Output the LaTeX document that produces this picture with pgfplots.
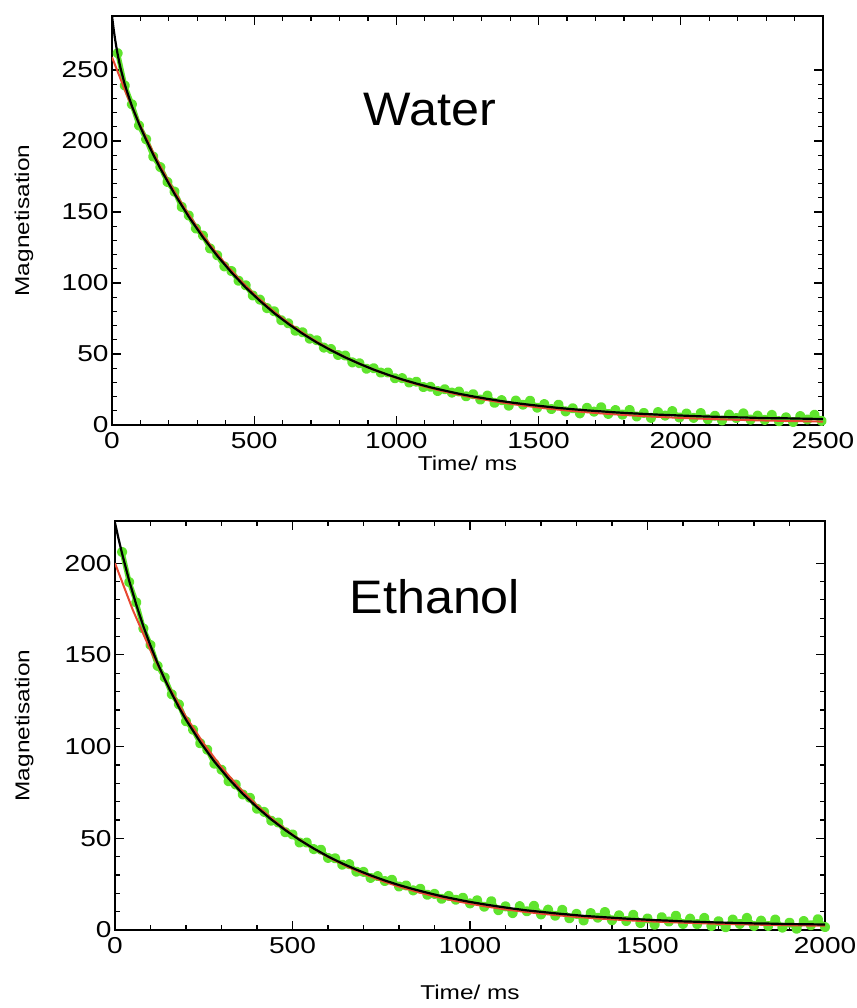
\documentclass[border=0pt]{standalone}
\usepackage{fontspec}
\setmainfont{Liberation Sans}
\newfontfamily\tickfont[FakeStretch=1.22]{Liberation Sans}
\newfontfamily\titlefont[FakeStretch=1.07]{Liberation Sans}
\usepackage{pgfplots}
\pgfplotsset{compat=1.18}
\definecolor{dgreen}{RGB}{95,228,45}
\definecolor{fred}{RGB}{232,72,50}
\pgfplotsset{
 nmrstyle/.style={
  scale only axis, anchor=south west, clip mode=individual,
  axis line style={line width=1.8pt},
  tick style={black, line width=1.2pt},
  major tick length=9pt, minor tick length=5pt,
  tick align=inside,
  minor x tick num=4, minor y tick num=4,
  ticklabel style={font=\fontsize{23}{23}\tickfont},
  xticklabel style={yshift=-4pt},
  /pgf/number format/assume math mode=true,
  /pgf/number format/set thousands separator={},
  label style={font=\fontsize{20}{20}\tickfont},
  scaled ticks=false,
  ylabel={Magnetisation}, xlabel={Time/ ms},
 },
 datastyle/.style={sharp plot, color=dgreen, line width=5pt, line join=round, line cap=round, mark=*, mark size=2.6pt},
 redfit/.style={no marks, fred, line width=2pt},
 blackfit/.style={no marks, black, line width=2.2pt},
}
\begin{document}
\begin{tikzpicture}[x=1pt,y=1pt]
\path[use as bounding box] (0,0) rectangle (856,1008);
% ---------------- Water ----------------
\begin{axis}[nmrstyle, at={(112pt,583pt)}, width=711pt, height=409pt,
  xmin=0, xmax=2500, ymin=0, ymax=288,
  xtick={0,500,1000,1500,2000,2500}, ytick={0,50,100,150,200,250},
  xlabel style={at={(axis description cs:0.5,-0.093)}, anchor=center},
  ylabel style={at={(axis description cs:-0.124,0.5)}, anchor=center}]
\addplot[datastyle] coordinates {
(20,261.8)(45,239.0)(70,225.8)(95,210.9)(120,201.2)(145,189.0)(170,181.6)(195,171.1)(220,164.3)(245,153.6)
(270,147.5)(295,138.4)(320,133.4)(345,124.3)(370,119.5)(395,111.7)(420,108.4)(445,101.6)(470,98.4)(495,91.2)
(520,88.3)(545,82.3)(570,80.1)(595,73.8)(620,71.6)(645,66.3)(670,65.3)(695,60.8)(720,59.7)(745,54.5)
(770,53.5)(795,49.3)(820,48.9)(845,44.1)(870,43.5)(895,39.6)(920,40.0)(945,36.9)(970,37.0)(995,32.9)
(1020,33.0)(1045,29.9)(1070,30.5)(1095,26.7)(1120,26.9)(1145,23.9)(1170,25.2)(1195,22.8)(1220,23.6)(1245,20.2)
(1270,21.7)(1295,17.9)(1320,20.7)(1345,15.6)(1370,17.5)(1395,13.6)(1420,17.2)(1445,14.3)(1470,17.1)(1495,12.2)
(1520,14.7)(1545,11.2)(1570,14.3)(1595,9.6)(1620,11.8)(1645,8.2)(1670,12.1)(1695,9.4)(1720,12.5)(1745,7.8)
(1770,10.5)(1795,7.3)(1820,10.6)(1845,6.0)(1870,8.5)(1895,5.0)(1920,9.1)(1945,6.6)(1970,9.8)(1995,5.3)
(2020,8.1)(2045,5.0)(2070,8.4)(2095,4.0)(2120,6.5)(2145,3.2)(2170,7.3)(2195,4.9)(2220,8.2)(2245,3.8)
(2270,6.6)(2295,3.6)(2320,7.1)(2345,2.7)(2370,5.4)(2395,2.1)(2420,6.3)(2445,3.9)(2470,7.2)(2495,2.9)
};
\addplot[redfit] coordinates {
(0,259.00)(50,233.48)(100,210.48)(150,189.76)(200,171.09)(250,154.26)(300,139.10)(350,125.44)(400,113.13)(450,102.04)
(500,92.04)(550,83.04)(600,74.92)(650,67.61)(700,61.02)(750,55.08)(800,49.73)(850,44.91)(900,40.57)(950,36.65)
(1000,33.13)(1050,29.95)(1100,27.08)(1150,24.50)(1200,22.18)(1250,20.08)(1300,18.19)(1350,16.49)(1400,14.96)(1450,13.58)
(1500,12.34)(1550,11.21)(1600,10.20)(1650,9.29)(1700,8.47)(1750,7.73)(1800,7.07)(1850,6.47)(1900,5.93)(1950,5.44)
(2000,5.00)(2050,4.60)(2100,4.25)(2150,3.92)(2200,3.63)(2250,3.37)(2300,3.14)(2350,2.93)(2400,2.74)(2450,2.56)(2500,2.41)
};
\addplot[blackfit] coordinates {
(0,288.0)(5,279.9)(10,272.7)(15,266.5)(20,260.9)(30,251.3)(45,239.7)(70,224.5)(95,212.0)(120,200.8)(145,190.4)
(170,180.6)(220,162.7)(270,146.6)(320,132.1)(370,119.1)(420,107.4)(470,96.8)(520,87.4)(570,78.8)(620,71.2)
(670,64.3)(720,58.1)(770,52.6)(820,47.6)(870,43.1)(920,39.0)(970,35.4)(1020,32.1)(1070,29.2)(1120,26.5)
(1170,24.2)(1220,22.0)(1270,20.1)(1320,18.4)(1370,16.8)(1420,15.4)(1470,14.2)(1520,13.1)(1570,12.0)(1620,11.1)
(1670,10.3)(1720,9.6)(1770,8.9)(1820,8.3)(1870,7.8)(1920,7.3)(1970,6.9)(2020,6.5)(2070,6.1)(2120,5.8)
(2170,5.5)(2220,5.3)(2270,5.0)(2320,4.8)(2370,4.7)(2420,4.5)(2470,4.3)(2500,4.2)
};
\node[font=\fontsize{47}{47}\titlefont] at (axis cs:1118,222) {Water};
\end{axis}
% ---------------- Ethanol ----------------
\begin{axis}[nmrstyle, at={(115pt,78pt)}, width=710pt, height=409pt,
  xmin=0, xmax=2000, ymin=0, ymax=223,
  xtick={0,500,1000,1500,2000}, ytick={0,50,100,150,200},
  xlabel style={at={(axis description cs:0.5,-0.152)}, anchor=center},
  ylabel style={at={(axis description cs:-0.128,0.5)}, anchor=center}]
\addplot[datastyle] coordinates {
(20,206.1)(40,189.7)(60,178.6)(80,164.4)(100,155.4)(120,144.0)(140,137.7)(160,128.5)(180,123.0)(200,113.8)
(220,109.2)(240,101.8)(260,98.3)(280,90.7)(300,87.4)(320,81.1)(340,79.3)(360,73.9)(380,72.1)(400,66.1)
(420,64.4)(440,59.6)(460,58.6)(480,53.3)(500,52.1)(520,47.7)(540,47.7)(560,44.1)(580,43.8)(600,39.3)
(620,39.1)(640,35.6)(660,35.9)(680,31.8)(700,31.7)(720,28.4)(740,29.4)(760,26.7)(780,27.4)(800,23.7)
(820,24.3)(840,21.6)(860,22.5)(880,19.2)(900,19.7)(920,17.0)(940,18.6)(960,16.5)(980,17.6)(1000,14.5)
(1020,16.2)(1040,12.7)(1060,15.7)(1080,10.8)(1100,12.9)(1120,9.2)(1140,13.0)(1160,10.2)(1180,13.2)(1200,8.5)
(1220,11.1)(1240,7.8)(1260,11.0)(1280,6.4)(1300,8.8)(1320,5.2)(1340,9.2)(1360,6.7)(1380,9.8)(1400,5.3)
(1420,8.0)(1440,4.9)(1460,8.3)(1480,3.8)(1500,6.3)(1520,2.9)(1540,7.0)(1560,4.6)(1580,7.8)(1600,3.3)
(1620,6.2)(1640,3.2)(1660,6.6)(1680,2.2)(1700,4.8)(1720,1.5)(1740,5.7)(1760,3.3)(1780,6.6)(1800,2.2)
(1820,5.1)(1840,2.2)(1860,5.7)(1880,1.3)(1900,4.0)(1920,0.7)(1940,4.9)(1960,2.6)(1980,5.9)(2000,1.6)
};
\addplot[redfit] coordinates {
(0,200.00)(50,174.59)(100,152.43)(150,133.11)(200,116.26)(250,101.57)(300,88.76)(350,77.59)(400,67.85)(450,59.36)
(500,51.95)(550,45.49)(600,39.86)(650,34.95)(700,30.67)(750,26.93)(800,23.68)(850,20.84)(900,18.36)(950,16.20)
(1000,14.32)(1050,12.68)(1100,11.25)(1150,10.00)(1200,8.91)(1250,7.96)(1300,7.14)(1350,6.41)(1400,5.78)(1450,5.24)
(1500,4.76)(1550,4.34)(1600,3.98)(1650,3.66)(1700,3.38)(1750,3.14)(1800,2.93)(1850,2.75)(1900,2.59)(1950,2.45)(2000,2.33)
};
\addplot[blackfit] coordinates {
(0,222.0)(10,213.3)(20,205.2)(40,190.4)(60,177.3)(80,165.5)(100,155.0)(120,145.4)(140,136.7)(160,128.8)
(180,121.4)(200,114.6)(240,102.5)(280,91.8)(320,82.5)(360,74.2)(400,66.9)(440,60.3)(480,54.4)(520,49.1)
(560,44.4)(600,40.1)(640,36.3)(680,32.9)(720,29.8)(760,27.0)(800,24.5)(840,22.3)(880,20.3)(920,18.4)
(960,16.8)(1000,15.3)(1040,14.0)(1080,12.8)(1120,11.7)(1160,10.7)(1200,9.9)(1240,9.1)(1280,8.4)(1320,7.7)
(1360,7.2)(1400,6.7)(1440,6.2)(1480,5.8)(1520,5.4)(1560,5.1)(1600,4.7)(1640,4.5)(1680,4.2)(1720,4.0)
(1760,3.8)(1800,3.6)(1840,3.5)(1880,3.3)(1920,3.2)(1960,3.1)(2000,3.0)
};
\node[font=\fontsize{47}{47}\titlefont] at (axis cs:901,181.7) {Ethanol};
\end{axis}
\end{tikzpicture}
\end{document}
